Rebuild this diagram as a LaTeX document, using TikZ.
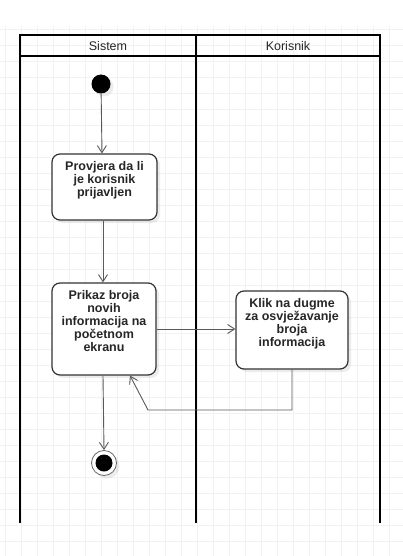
\documentclass[tikz,border=0pt]{standalone}
\usepackage{fontspec}
\setmainfont{Liberation Sans}
\usetikzlibrary{arrows.meta,shadows}

\newcommand{\akcija}[3]{\parbox[t][#1][t]{#2}{\vspace*{4pt}\centering\bfseries #3}}

\begin{document}
\begin{tikzpicture}[x=1pt,y=-1pt]
        \tikzstyle{every node}=[font=\fontsize{12.5}{13}\selectfont, text=black!85]
        \tikzstyle{traka}=[line width=2pt, black]
        \tikzstyle{akcija}=[draw=black!80, line width=1.2pt, rounded corners=8pt, fill=white,
            inner sep=3pt, drop shadow={opacity=0.15, shadow xshift=3pt, shadow yshift=-3pt}]
        \tikzstyle{tok}=[draw=black!65, line width=0.9pt, -{Straight Barb[length=7pt,width=9pt]}]
        \useasboundingbox (0,0) rectangle (403,556);
        % pozadina
        \fill[white] (0,0) rectangle (403,556);
        \draw[black!5, line width=0.6pt, step=16pt, xshift=5pt, yshift=-13pt] (-5,13) grid (403,560);
        % trake
        \draw[traka] (20,523) -- (20,35) -- (380,35) -- (380,523);
        \draw[traka] (20,56) -- (380,56);
        \draw[traka] (196,35) -- (196,523);
        \node (sistem) at (108,46) {Sistem};
        \node (korisnik) at (288,46) {Korisnik};
        % cvorovi
        \node[circle, fill=black, minimum size=19pt, inner sep=0pt,
            drop shadow={opacity=0.15, shadow xshift=3pt, shadow yshift=-3pt}] (start) at (101,84) {};
        \node[akcija, minimum width=105pt, minimum height=66pt] (provjera) at (104.5,187)
            {\akcija{60pt}{99pt}{Provjera da li\\je korisnik\\prijavljen}};
        \node[akcija, minimum width=104pt, minimum height=92pt] (prikaz) at (104,329)
            {\akcija{86pt}{98pt}{Prikaz broja\\novih\\informacija na\\po\v{c}etnom\\ekranu}};
        \node[akcija, minimum width=112pt, minimum height=78pt] (klik) at (292,330)
            {\akcija{72pt}{106pt}{Klik na dugme\\za osvje\v{z}avanje\\broja\\informacija}};
        \node[circle, draw=black!60, line width=0.8pt, fill=white, minimum size=25pt, inner sep=0pt,
            drop shadow={opacity=0.15, shadow xshift=3pt, shadow yshift=-3pt}] (kraj) at (104,463) {};
        \fill[black] (kraj) circle (8.5pt);
        \coordinate (skret) at (148,410);
        % tokovi
        \draw[tok] (start) -- (provjera.north -| 102,0);
        \draw[tok] (provjera.south -| 103,0) -- (prikaz.north -| 103,0);
        \draw[tok] (prikaz.east) -- (klik.west |- prikaz.east);
        \draw[tok] (klik.south) |- (skret) -- ([xshift=26pt]prikaz.south);
        \draw[tok] (prikaz.south -| 103,0) -- (kraj.north);
\end{tikzpicture}
\end{document}
